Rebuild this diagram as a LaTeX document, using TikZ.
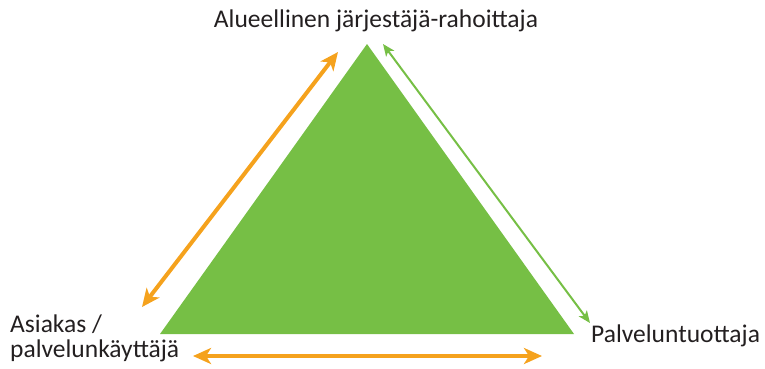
\documentclass[tikz,border=0pt]{standalone}
\usepackage{fontspec}
\setmainfont{Carlito}
\usetikzlibrary{arrows.meta}
\definecolor{tgreen}{HTML}{76BF45}
\definecolor{torange}{HTML}{F5A21D}
\definecolor{ttext}{HTML}{231F20}
\begin{document}
\begin{tikzpicture}[x=1pt,y=-1pt,
  lbl/.style={text=ttext,font=\fontsize{25.5}{30}\selectfont,inner sep=0pt},
  oarrow/.style={draw=torange,line width=4pt,{Stealth[length=18pt,width=16pt,inset=5pt]}-{Stealth[length=18pt,width=16pt,inset=5pt]}},
  garrow/.style={draw=tgreen,line width=2pt,{Stealth[length=12pt,width=10pt,inset=3pt]}-{Stealth[length=12pt,width=10pt,inset=3pt]}}]
\useasboundingbox (0,0) rectangle (765,368);
\coordinate (apex) at (367,44);
\coordinate (bl) at (160,334);
\coordinate (br) at (574,334);
\fill[tgreen] (apex) -- (bl) -- (br) -- cycle;
\coordinate (l1) at (142,307);
\coordinate (l2) at (338,52);
\coordinate (b1) at (193,356);
\coordinate (b2) at (542,356);
\coordinate (g1) at (383,44);
\coordinate (g2) at (590,323);
\draw[oarrow] (l1) -- (l2);
\draw[oarrow] (b1) -- (b2);
\draw[garrow] (g1) -- (g2);
\node[lbl,anchor=base] (top) at (376,27) {Alueellinen järjestäjä-rahoittaja};
\node[lbl,anchor=base west,align=left] (cust) at (10,332) {Asiakas /};
\node[lbl,anchor=base west] (cust2) at (10,357) {palvelunkäyttäjä};
\node[lbl,anchor=base west] (prov) at (591,342) {Palveluntuottaja};
\end{tikzpicture}
\end{document}
